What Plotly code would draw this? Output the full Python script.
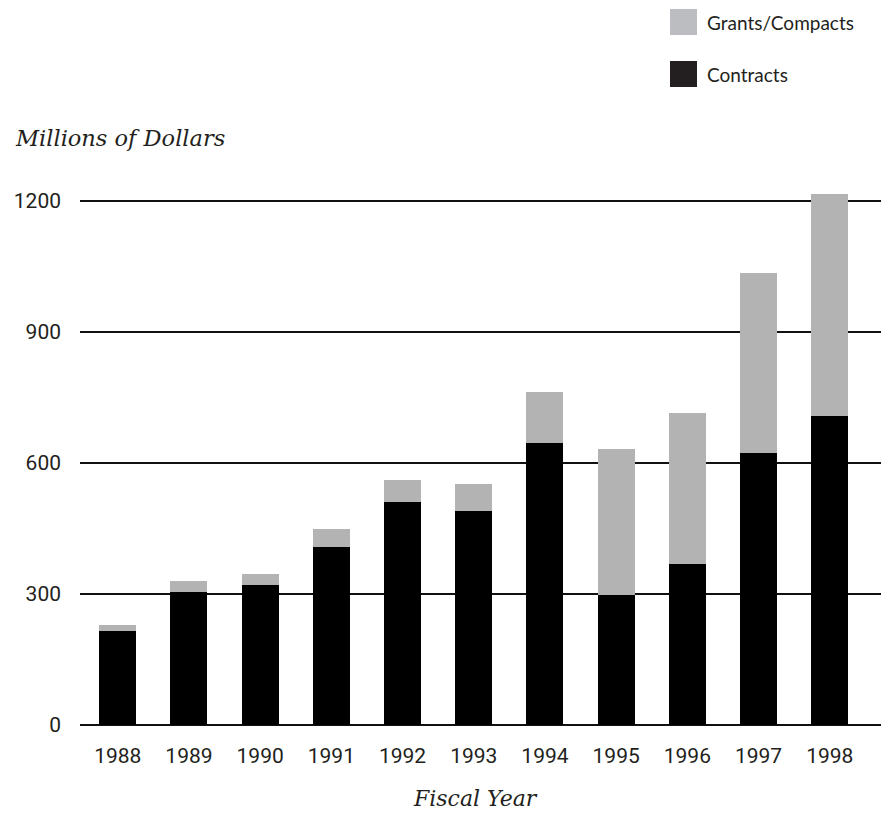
import plotly.graph_objects as go

years = ["1988", "1989", "1990", "1991", "1992", "1993", "1994", "1995", "1996", "1997", "1998"]
contracts = [215, 305, 321, 408, 511, 490, 646, 298, 369, 623, 708]
totals = [229, 330, 346, 449, 561, 552, 763, 632, 714, 1035, 1216]
grants = [t - c for t, c in zip(totals, contracts)]
series_names = ["Grants/Compacts", "Contracts"]
y_ticks = [0, 300, 600, 900, 1200]

W, H = 881, 813
L, R, T, B = 80, 0, 170, 88
pw, ph = W - L - R, H - T - B

fig = go.Figure()
fig.add_trace(go.Bar(x=years, y=contracts, name="Contracts", marker=dict(color="#000000", line=dict(width=0)), showlegend=False))
fig.add_trace(go.Bar(x=years, y=grants, name="Grants/Compacts", marker=dict(color="#b3b3b3", line=dict(width=0)), showlegend=False))

def px(x):
    return (x - L) / pw

def py(y):
    return (H - B - y) / ph

# legend drawn manually
leg_colors = ["#bcbdc0", "#231f20"]
leg_tops = [9, 61]
for name, col, top in zip(series_names, leg_colors, leg_tops):
    fig.add_shape(type="rect", xref="paper", yref="paper", x0=px(670), x1=px(697), y0=py(top + 26), y1=py(top), fillcolor=col, line=dict(width=0))
    fig.add_annotation(text=name, xref="paper", yref="paper", x=px(705), y=py(top + 13), xanchor="left", yanchor="middle", showarrow=False, font=dict(family="Lato", size=19, color="#231f20"))

fig.add_annotation(text="<i>Millions of Dollars</i>", xref="paper", yref="paper", x=px(13), y=py(138), xanchor="left", yanchor="middle", showarrow=False, font=dict(family="DejaVu Serif", size=22.5, color="#231f20"))
fig.add_annotation(text="<i>Fiscal Year</i>", xref="paper", yref="paper", x=px(475), y=py(798), xanchor="center", yanchor="middle", showarrow=False, font=dict(family="DejaVu Serif", size=22, color="#231f20"))

fig.update_layout(
    width=W, height=H,
    margin=dict(l=L, r=R, t=T, b=B),
    barmode="stack", bargap=0.48,
    plot_bgcolor="white", paper_bgcolor="white",
    xaxis=dict(type="category", range=[-0.53, 10.72], showgrid=False, showline=False, zeroline=False, ticks="",
               ticklabelstandoff=16, tickfont=dict(family="Roboto", size=21, color="#231f20")),
    yaxis=dict(range=[0, 1271], tickvals=y_ticks, ticktext=[str(v) for v in y_ticks], showgrid=True, gridcolor="#111111", gridwidth=1.5,
               zeroline=True, zerolinecolor="#111111", zerolinewidth=1.5, showline=False, ticks="", ticklabelstandoff=18,
               tickfont=dict(family="Roboto", size=21, color="#231f20")),
)

fig.write_html("out.html", config={"displayModeBar": False}, post_script="document.body.style.margin='0';")
